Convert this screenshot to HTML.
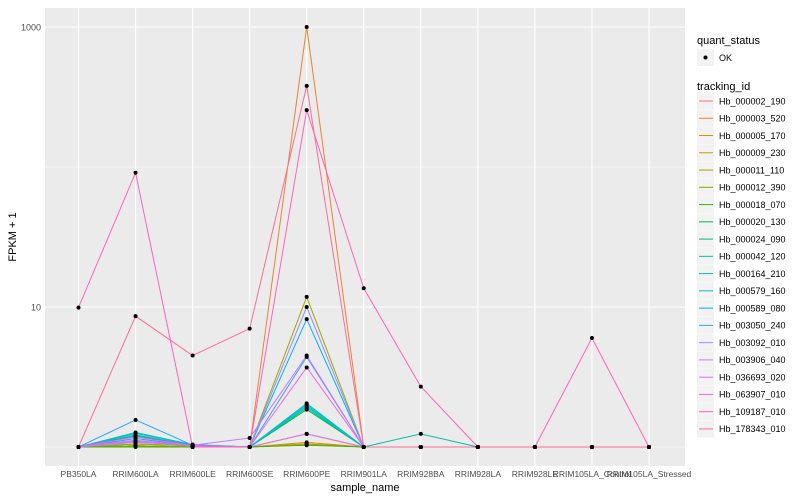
<!DOCTYPE html>
<html><head><meta charset="utf-8"><style>
body{margin:0;background:#fff}
svg{display:block;font-family:"Liberation Sans",sans-serif}
</style></head><body>
<svg id="c" width="800" height="500" xmlns="http://www.w3.org/2000/svg">
<rect x="45" y="8" width="640" height="458" fill="#EBEBEB"/>
<g id="grid"></g><g id="lines"></g><g id="pts"></g><g id="axes"></g><g id="legend"></g>
</svg>
<script>
const categories=["PB350LA","RRIM600LA","RRIM600LE","RRIM600SE","RRIM600PE","RRIM901LA","RRIM928BA","RRIM928LA","RRIM928LE","RRIM105LA_Control","RRIM105LA_Stressed"];
const seriesNames=["Hb_000002_190","Hb_000003_520","Hb_000005_170","Hb_000009_230","Hb_000011_110","Hb_000012_390","Hb_000018_070","Hb_000020_130","Hb_000024_090","Hb_000042_120","Hb_000164_210","Hb_000579_160","Hb_000589_080","Hb_003050_240","Hb_003092_010","Hb_003906_040","Hb_036693_020","Hb_063907_010","Hb_109187_010","Hb_178343_010"];
const seriesColors=["#F8766D","#EA8331","#D89000","#C09B00","#A3A500","#7CAE00","#39B600","#00BB4E","#00BF7D","#00C1A3","#00BFC4","#00BAE0","#00B0F6","#35A2FF","#9590FF","#C77CFF","#E76BF3","#FA62DB","#FF62BC","#FF6C91"];
const s00=[1,1.05,1.02,1,1.05,1,1,1,1,1,1];
const s01=[1,1.02,1,1,1000,1,1,1,1,1,1];
const s02=[1,1.02,1,1,1.08,1,1,1,1,1,1];
const s03=[1,1.02,1,1,1.05,1,1,1,1,1,1];
const s04=[1,1.05,1.02,1,11.8,1,1,1,1,1,1];
const s05=[1,1.02,1,1,1.24,1,1,1,1,1,1];
const s06=[1,1,1,1,1.03,1,1,1,1,1,1];
const s07=[1,1.2,1.02,1,1.85,1,1,1,1,1,1];
const s08=[1,1.1,1.02,1,1.9,1,1,1,1,1,1];
const s09=[1,1.25,1.04,1,2.0,1,1.24,1,1,1,1];
const s10=[1,1.27,1.04,1,2.05,1,1,1,1,1,1];
const s11=[1,1.22,1.03,1,1.95,1,1,1,1,1,1];
const s12=[1,1.15,1.02,1,8.2,1,1,1,1,1,1];
const s13=[1,1.56,1.03,1,4.4,1,1,1,1,1,1];
const s14=[1,1.1,1.02,1,10,1,1,1,1,1,1];
const s15=[1,1.08,1.03,1.16,4.5,1,1,1,1,1,1];
const s16=[1,1.12,1.02,1,1.24,1,1,1,1,1,1];
const s17=[1,1.18,1.02,1,3.7,1,1,1,1,1,1];
const s18=[9.9,91,1,1,255,13.6,2.7,1,1,6,1];
const s19=[1,8.6,4.5,7,380,1,1,1,1,1,1];
const seriesValues=[s00,s01,s02,s03,s04,s05,s06,s07,s08,s09,s10,s11,s12,s13,s14,s15,s16,s17,s18,s19];
const yMajor=[10,1000];const yMajorLabels=["10","1000"];const yMinor=[1,100];
const NS="http://www.w3.org/2000/svg";
function X(i){return 78.5+i*57.05;}
function Y(v){return 447-140*Math.log10(v);}
function mk(tag,at,parent){const e=document.createElementNS(NS,tag);for(const k in at)e.setAttribute(k,at[k]);parent.appendChild(e);return e;}
const G=id=>document.getElementById(id);
yMinor.forEach(v=>{const l=mk('line',{x1:45,x2:685,y1:Y(v),y2:Y(v),stroke:'#fff','stroke-width':0.6},G('grid'));

});
yMajor.forEach((v,i)=>{const l=mk('line',{x1:45,x2:685,y1:Y(v),y2:Y(v),stroke:'#fff','stroke-width':1.1},G('grid'));


const t=mk('text',{x:41,y:Y(v)+3.5,'text-anchor':'end','font-size':9,fill:'#4D4D4D'},G('axes'));t.textContent=yMajorLabels[i];

});
categories.forEach((c,i)=>{const l=mk('line',{x1:X(i),x2:X(i),y1:8,y2:466,stroke:'#fff','stroke-width':1.1},G('grid'));


const t=mk('text',{x:X(i),y:477,'text-anchor':'middle','font-size':8.5,fill:'#4D4D4D'},G('axes'));t.textContent=c;

});
seriesValues.forEach((vals,s)=>{const p=mk('polyline',{points:vals.map((v,i)=>X(i)+','+Y(v)).join(' '),fill:'none',stroke:seriesColors[s],'stroke-width':1},G('lines'));


vals.forEach((v,i)=>{const c=mk('circle',{cx:X(i),cy:Y(v),r:2,fill:'#000'},G('pts'));

});});
let t=mk('text',{x:365,y:491,'text-anchor':'middle','font-size':11,fill:'#000'},G('axes'));t.textContent='sample_name';


t=mk('text',{x:0,y:0,'text-anchor':'middle','font-size':11,fill:'#000',transform:'translate(16,237) rotate(-90)'},G('axes'));t.textContent='FPKM + 1';


const L=G('legend');
t=mk('text',{x:697,y:44,'font-size':11},L);t.textContent='quant_status';


let r=mk('rect',{x:697,y:49,width:17,height:17,fill:'#F2F2F2'},L);


mk('circle',{cx:705.5,cy:57.5,r:2,fill:'#000'},L);
t=mk('text',{x:719,y:61,'font-size':9},L);t.textContent='OK';


t=mk('text',{x:697,y:90,'font-size':11},L);t.textContent='tracking_id';


seriesNames.forEach((n,i)=>{const y=101+i*17.26;
const k=mk('rect',{x:697,y:y-8.5,width:17,height:17,fill:'#F2F2F2'},L);


mk('line',{x1:699,x2:713,y1:y,y2:y,stroke:seriesColors[i],'stroke-width':1},L);
const tt=mk('text',{x:719,y:y+3.3,'font-size':9},L);tt.textContent=n;

});
</script>
</body></html>
